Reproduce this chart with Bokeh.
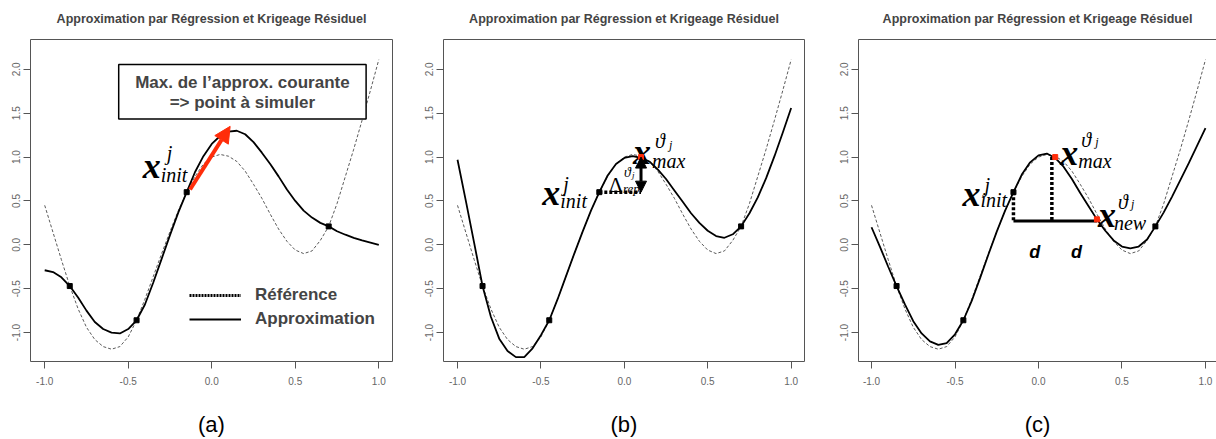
from bokeh.plotting import figure
from bokeh.layouts import row
from bokeh.models import (Range1d, Arrow, NormalHead, BoxAnnotation, Legend, LegendItem,
                          FixedTicker, NumeralTickFormatter, Label, LinearAxis)
from bokeh.core.properties import value
from bokeh.embed import file_html
from bokeh.resources import INLINE

TITLE = "Approximation par Régression et Krigeage Résiduel"
panel_labels = ["(a)", "(b)", "(c)"]
x_ticks = [-1.0, -0.5, 0.0, 0.5, 1.0]
y_ticks = [-1.0, -0.5, 0.0, 0.5, 1.0, 1.5, 2.0]

xs = [-1.00, -0.95, -0.90, -0.85, -0.80, -0.75, -0.70, -0.65, -0.60, -0.55, -0.50,
      -0.45, -0.40, -0.35, -0.30, -0.25, -0.20, -0.15, -0.10, -0.05, 0.00,
      0.05, 0.10, 0.15, 0.20, 0.25, 0.30, 0.35, 0.40, 0.45, 0.50,
      0.55, 0.60, 0.65, 0.70, 0.75, 0.80, 0.85, 0.90, 0.95, 1.00]
ref_y = [0.45, 0.14, -0.17, -0.47, -0.73, -0.94, -1.08, -1.16, -1.19, -1.16, -1.05,
         -0.86, -0.62, -0.36, -0.10, 0.15, 0.39, 0.60, 0.78, 0.92, 1.00,
         1.03, 1.01, 0.95, 0.84, 0.69, 0.53, 0.35, 0.18, 0.04, -0.06,
         -0.10, -0.07, 0.05, 0.21, 0.47, 0.78, 1.09, 1.42, 1.76, 2.11]
approx_a = [-0.29, -0.31, -0.37, -0.47, -0.60, -0.75, -0.88, -0.96, -1.00, -1.01, -0.96,
            -0.86, -0.68, -0.43, -0.16, 0.11, 0.37, 0.60, 0.83, 1.01, 1.15,
            1.24, 1.29, 1.30, 1.26, 1.17, 1.05, 0.92, 0.78, 0.63, 0.50,
            0.39, 0.31, 0.25, 0.21, 0.155, 0.115, 0.08, 0.05, 0.025, 0.00]
approx_b = [0.97, 0.50, 0.02, -0.47, -0.82, -1.07, -1.21, -1.28, -1.28, -1.18, -1.03,
            -0.86, -0.62, -0.36, -0.10, 0.15, 0.39, 0.60, 0.79, 0.92, 0.99,
            1.01, 0.99, 0.95, 0.86, 0.75, 0.62, 0.49, 0.36, 0.25, 0.16,
            0.10, 0.08, 0.12, 0.21, 0.36, 0.54, 0.76, 1.01, 1.28, 1.56]
approx_c = [0.20, -0.02, -0.25, -0.47, -0.68, -0.87, -1.01, -1.10, -1.14, -1.12, -1.02,
            -0.86, -0.64, -0.38, -0.11, 0.15, 0.39, 0.60, 0.80, 0.94, 1.02,
            1.04, 0.99, 0.89, 0.75, 0.59, 0.44, 0.29, 0.16, 0.05, -0.02,
            -0.04, -0.02, 0.06, 0.21, 0.37, 0.55, 0.74, 0.93, 1.13, 1.33]

obs_x = [-0.85, -0.45, -0.15, 0.70]
obs_y = [-0.47, -0.86, 0.60, 0.21]

x_init = (-0.15, 0.60)
x_max = (0.10, 1.00)
x_new = (0.35, 0.29)
d_level = 0.27
x_mid = 0.08

arrow_a_start = (-0.13, 0.63)
arrow_a_end = (0.11, 1.35)
box_a = dict(left=-0.557, right=0.924, bottom=1.435, top=2.056)
box_lines = ["Max. de l\u2019approx. courante", "=> point \u00e0 simuler"]
box_line_y = [1.85, 1.62]
legend_labels = ["Référence", "Approximation"]

RED = "#ff2d0a"
GRAY = "#555555"
SERIF = "Liberation Serif"
SANS = "Liberation Sans"
NAN = float("nan")


def put(p, anchor, parts):
    for text, dx, dy, size, style in parts:
        p.text(x=[anchor[0]], y=[anchor[1]], text=[text], x_offset=dx, y_offset=dy,
               text_font=value(SERIF), text_font_size=value(f"{size}px"),
               text_font_style=style, text_color="black",
               text_align="left", text_baseline="alphabetic")


def make_panel(width, bl, br, bt, bb, x_start, x_end, letter, approx, open_right=False):
    p = figure(width=width, height=439,
               x_range=Range1d(x_start, x_end), y_range=Range1d(-1.33, 2.34),
               output_backend="svg", toolbar_location=None,
               min_border_left=bl, min_border_right=br,
               min_border_top=bt, min_border_bottom=bb,
               background_fill_color="white", border_fill_color="white")
    p.grid.visible = False
    p.title.text = TITLE
    p.title.align = "center"
    p.title.vertical_align = "top"
    p.title.text_font = SANS
    p.title.text_font_size = "12.5px"
    p.title.text_font_style = "bold"
    p.title.standoff = 23
    p.xaxis.ticker = FixedTicker(ticks=x_ticks)
    p.yaxis.ticker = FixedTicker(ticks=y_ticks)
    for ax in (p.xaxis[0], p.yaxis[0]):
        ax.formatter = NumeralTickFormatter(format="0.0")
        ax.major_tick_out = 7
        ax.major_tick_in = 0
        ax.minor_tick_out = 0
        ax.minor_tick_in = 0
        ax.major_tick_line_color = GRAY
        ax.axis_line_color = None
        ax.major_label_text_font = SANS
        ax.major_label_text_font_size = "10px"
        ax.major_label_text_color = "#666666"
    p.yaxis.major_label_orientation = "vertical"
    p.xaxis.major_label_standoff = 8
    p.yaxis.major_label_standoff = 3
    p.xaxis.axis_label = letter
    p.xaxis.axis_label_text_font = SANS
    p.xaxis.axis_label_text_font_size = "22px"
    p.xaxis.axis_label_text_font_style = "normal"
    p.xaxis.axis_label_text_color = "black"
    p.xaxis.axis_label_standoff = 24
    if open_right:
        p.outline_line_color = None
        p.xaxis.axis_line_color = GRAY
        p.yaxis.axis_line_color = GRAY
        top = LinearAxis(ticker=FixedTicker(ticks=[]), major_label_text_font_size="0px",
                         major_tick_out=0, major_tick_in=0, axis_line_color=GRAY)
        p.add_layout(top, "above")
    else:
        p.outline_line_color = GRAY
        p.outline_line_width = 1

    p.line(xs, ref_y, line_color="#5a5a5a", line_width=1, line_dash="3 2")
    p.line(xs, approx, line_color="black", line_width=1.8)
    p.scatter(obs_x, obs_y, marker="square", size=5, color="black")
    return p


# ---------- panel (a) ----------
pa = make_panel(405, 30, 13, 37, 77, -1.085, 1.082, panel_labels[0], approx_a)
box = BoxAnnotation(fill_color="white", fill_alpha=1.0, line_color="black", line_alpha=1.0,
                    line_width=1.5, **box_a)
pa.add_layout(box)
for t, yy in zip(box_lines, box_line_y):
    pa.add_layout(Label(x=(box_a["left"] + box_a["right"]) / 2, y=yy, text=t,
                        text_align="center", text_baseline="middle",
                        text_font=SANS, text_font_size="17px", text_font_style="bold"))
pa.add_layout(Arrow(end=NormalHead(size=16, fill_color=RED, line_color=RED),
                    x_start=arrow_a_start[0], y_start=arrow_a_start[1],
                    x_end=arrow_a_end[0], y_end=arrow_a_end[1],
                    line_color=RED, line_width=4))
put(pa, x_init, [("x", -44, -26, 36, "bold italic"), ("j", -20, -39, 20, "italic"),
                 ("init", -26, -17, 20, "italic")])
r_ref = pa.line([NAN], [NAN], line_color="black", line_width=3, line_dash="2 1")
r_apx = pa.line([NAN], [NAN], line_color="black", line_width=2)
leg = Legend(items=[LegendItem(label=legend_labels[0], renderers=[r_ref]),
                    LegendItem(label=legend_labels[1], renderers=[r_apx])],
             location=(159, 32), padding=0, margin=0, spacing=4,
             glyph_width=52, glyph_height=16, label_height=16, label_standoff=14,
             border_line_color=None, background_fill_alpha=0,
             label_text_font=SANS, label_text_font_size="17px", label_text_font_style="bold")
pa.add_layout(leg)

# ---------- panel (b) ----------
pb = make_panel(405, 38, 6, 39, 75, -1.084, 1.080, panel_labels[1], approx_b)
pb.line([x_init[0], x_max[0]], [x_init[1], x_init[1]], line_color="black", line_width=3.5, line_dash="3 2")
put(pb, x_init, [("x", -57, 1, 36, "bold italic"), ("j", -36, -8, 20, "italic"),
                 ("init", -39, 9, 20, "italic")])
put(pb, x_max, [("x", -8, -5, 36, "bold italic"), ("\u03d1", 14, -16, 20, "italic"),
                ("j", 28, -12, 12, "italic"), ("max", 11, 4, 20, "italic")])
put(pb, x_max, [("\u0394", -32, 28, 21, "normal"), ("\u03d1", -17, 15, 14, "italic"),
                ("j", -9, 18, 9, "italic"), ("rep", -18, 31, 13, "italic")])
pb.add_layout(Arrow(start=NormalHead(size=11, fill_color="black", line_color="black"),
                    end=NormalHead(size=11, fill_color="black", line_color="black"),
                    x_start=x_max[0], y_start=x_init[1], x_end=x_max[0], y_end=x_max[1],
                    line_color="black", line_width=3))
pb.scatter([x_max[0]], [x_max[1]], marker="square", size=5, color=RED)

# ---------- panel (c) ----------
pc = make_panel(406, 48, 0, 39, 75, -1.078, 1.066, panel_labels[2], approx_c, open_right=True)
pc.line([x_init[0], x_init[0]], [x_init[1], d_level], line_color="black", line_width=3.5, line_dash="3 2")
pc.line([x_mid, x_mid], [x_max[1], d_level], line_color="black", line_width=3.5, line_dash="3 2")
pc.line([x_init[0], x_new[0]], [d_level, d_level], line_color="black", line_width=3)
pc.scatter([x_max[0], x_new[0]], [x_max[1], x_new[1]], marker="square", size=5, color=RED)
pc.text(x=[(x_init[0] + x_mid) / 2, (x_mid + x_new[0]) / 2], y=[d_level, d_level], text=["d", "d"],
        x_offset=2, y_offset=31, text_font=value(SANS), text_font_size=value("18px"),
        text_font_style="bold italic", text_align="center", text_baseline="middle")
put(pc, x_init, [("x", -51, 2, 36, "bold italic"), ("j", -29, -7, 20, "italic"),
                 ("init", -33, 8, 20, "italic")])
put(pc, x_max, [("x", 5, -4, 36, "bold italic"), ("\u03d1", 26, -17, 20, "italic"),
                ("j", 40, -15, 12, "italic"), ("max", 23, 4, 20, "italic")])
put(pc, x_new, [("x", 1, -4, 36, "bold italic"), ("\u03d1", 21, -17, 20, "italic"),
                ("j", 34, -15, 12, "italic"), ("new", 17, 4, 20, "italic")])

layout = row(pa, pb, pc)
open("out.html", "w").write(file_html(layout, INLINE))
